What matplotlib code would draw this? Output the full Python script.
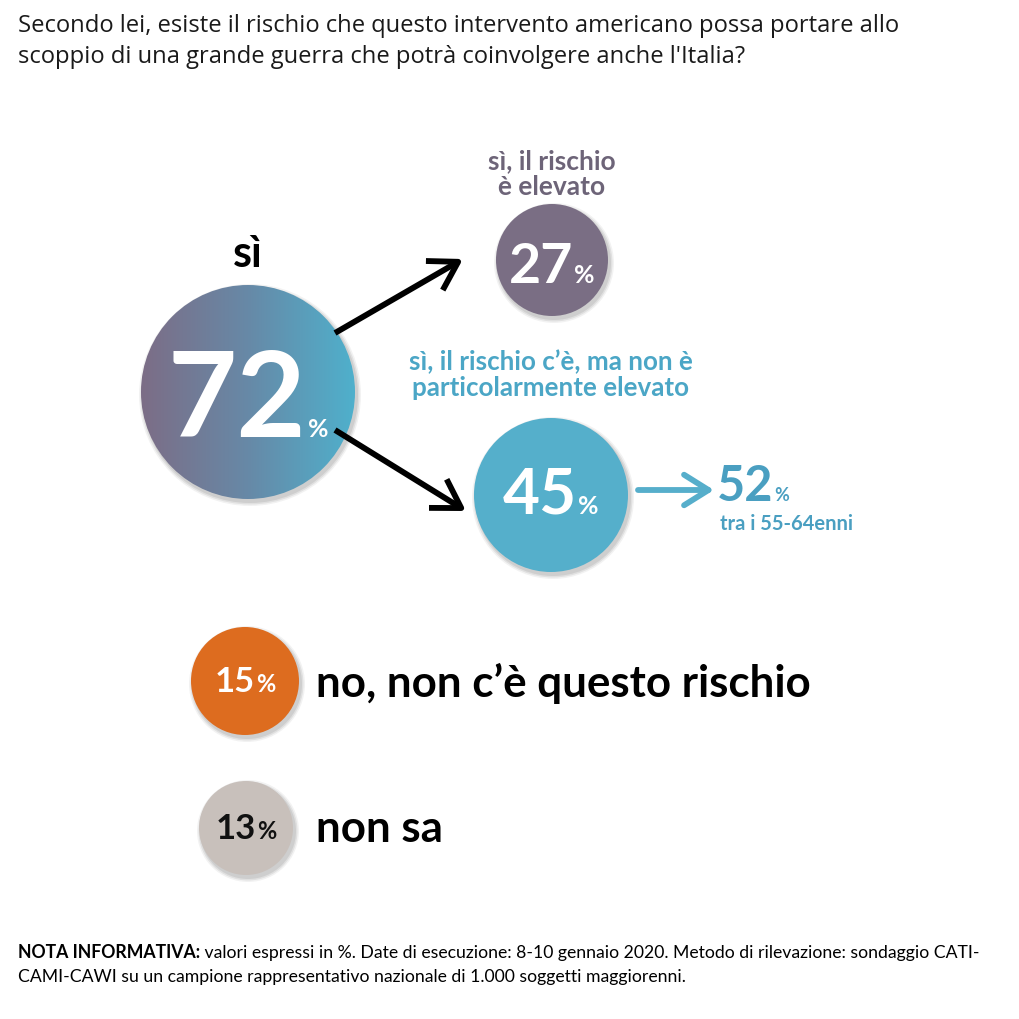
import matplotlib
matplotlib.use("Agg")
import matplotlib.pyplot as plt
import numpy as np
from matplotlib.patches import Circle
from matplotlib.colors import LinearSegmentedColormap

# ---------------- data ----------------
title_lines = ["Secondo lei, esiste il rischio che questo intervento americano possa portare allo",
               "scoppio di una grande guerra che potrà coinvolgere anche l'Italia?"]
main_label = "sì"
main_value = 72
sub_labels = ["sì, il rischio\nè elevato", "sì, il rischio c’è, ma non è\nparticolarmente elevato"]
sub_values = [27, 45]
segment_value = 52
segment_label = "tra i 55-64enni"
other_labels = ["no, non c’è questo rischio", "non sa"]
other_values = [15, 13]
note_bold = "NOTA INFORMATIVA:"
note_line1 = " valori espressi in %. Date di esecuzione: 8-10 gennaio 2020. Metodo di rilevazione: sondaggio CATI-"
note_line2 = "CAMI-CAWI su un campione rappresentativo nazionale di 1.000 soggetti maggiorenni."

# ---------------- layout ----------------
W = 1019
fig = plt.figure(figsize=(W / 100, W / 100), dpi=100)
ax = fig.add_axes([0, 0, 1, 1])
ax.set_xlim(0, W)
ax.set_ylim(W, 0)
ax.axis("off")
fig.canvas.draw()
renderer = fig.canvas.get_renderer()

FONT = "Lato"
TFONT = "Open Sans"


def shadow(cx, cy, r):
    for k, a in [(4, 0.05), (2.5, 0.07), (1, 0.08)]:
        ax.add_patch(Circle((cx + 2, cy + 3), r + k, color="black", alpha=a, lw=0, zorder=1))


def circle(cx, cy, r, color):
    shadow(cx, cy, r)
    c = Circle((cx, cy), r, color=color, lw=0, zorder=2)
    ax.add_patch(c)
    return c


def num_pct(xc, yb, num, s_num, s_pct, color, gap=2, align="center"):
    t1 = ax.text(0, yb, str(num), fontsize=s_num, fontweight="bold", color=color,
                 family=FONT, ha="left", va="baseline", zorder=5)
    t2 = ax.text(0, yb, "%", fontsize=s_pct, fontweight="bold", color=color,
                 family=FONT, ha="left", va="baseline", zorder=5)
    w1 = t1.get_window_extent(renderer).width
    w2 = t2.get_window_extent(renderer).width
    x0 = xc - (w1 + gap + w2) / 2 if align == "center" else xc
    t1.set_x(x0)
    t2.set_x(x0 + w1 + gap)


# title
for i, line in enumerate(title_lines):
    ax.text(18, 26 + 31 * i, line, fontsize=17.1, family=TFONT, color="#1a1a1a",
            ha="left", va="center")

# main circle with gradient
mcx, mcy, mr = 248, 392, 107
shadow(mcx, mcy, mr)
clip = Circle((mcx, mcy), mr, transform=ax.transData, facecolor="none", lw=0)
ax.add_patch(clip)
cmap = LinearSegmentedColormap.from_list("g", ["#7c6d86", "#6789a7", "#4fb0cc"])
grad = np.linspace(0, 1, 256).reshape(1, -1)
im = ax.imshow(grad, cmap=cmap, extent=[mcx - mr, mcx + mr, mcy + mr, mcy - mr],
               aspect="auto", zorder=2, interpolation="bilinear")
im.set_clip_path(clip)
ax.set_xlim(0, W)
ax.set_ylim(W, 0)

ax.text(mcx, 254, main_label, fontsize=31, fontweight="bold", family=FONT,
        color="black", ha="center", va="center")
num_pct(mcx, 437, main_value, 86, 18, "white", gap=1)

# sub circles
c27 = (552, 260, 56)
c45 = (551, 495, 77)
circle(*c27, "#7a6e84")
circle(*c45, "#55afcb")
num_pct(c27[0], 283, sub_values[0], 40, 18, "white", gap=1)
num_pct(c45[0], 514, sub_values[1], 46, 18, "white", gap=1)

ax.text(552, 174, sub_labels[0], fontsize=19, fontweight="bold", family=FONT,
        color="#6d6478", ha="center", va="center", linespacing=1.05)
ax.text(551, 375, sub_labels[1], fontsize=18.7, fontweight="bold", family=FONT,
        color="#4ba6c6", ha="center", va="center", linespacing=1.1)

# arrows
arrow_kw = dict(arrowstyle="->,head_length=0.9,head_width=0.55", lw=4.2, color="black",
                shrinkA=0, shrinkB=0, mutation_scale=22, capstyle="butt")
ax.annotate("", xy=(463, 259), xytext=(335, 333), arrowprops=arrow_kw, zorder=4)
ax.annotate("", xy=(466, 511), xytext=(335, 430), arrowprops=arrow_kw, zorder=4)
teal_kw = dict(arrowstyle="->,head_length=0.8,head_width=0.5", lw=4.2, color="#56aecb",
               shrinkA=0, shrinkB=0, mutation_scale=22)
ax.annotate("", xy=(714, 490), xytext=(638, 490), arrowprops=teal_kw, zorder=4)

num_pct(717, 501, segment_value, 35, 13, "#4a9fc1", gap=1, align="left")
ax.text(720, 524, segment_label, fontsize=14.5, fontweight="bold", family=FONT,
        color="#4a9fc1", ha="left", va="center")

# other answers
cols = ["#dd6c1f", "#c8c0bb"]
txtcols = ["white", "#111111"]
rows = [(245, 681, 54), (246, 828, 47)]
baselines = [697, 842]
for (cx, cy, r), v, lab, col, tc, yb in zip(rows, other_values, other_labels, cols, txtcols, baselines):
    circle(cx, cy, r, col)
    num_pct(cx, cy + 11, v, 25, 17, tc, gap=1)
    ax.text(316, yb, lab, fontsize=31.6, fontweight="bold", family=FONT, color="black",
            ha="left", va="baseline")

# note
tb = ax.text(18, 953, note_bold, fontsize=12.7, fontweight="bold", family=FONT, color="black",
             ha="left", va="center")
wb = tb.get_window_extent(renderer).width
ax.text(18 + wb, 953, note_line1, fontsize=12.7, family=FONT, color="black", ha="left", va="center")
ax.text(18, 977, note_line2, fontsize=12.7, family=FONT, color="black", ha="left", va="center")

fig.savefig("out.png", dpi=100, facecolor="white")
